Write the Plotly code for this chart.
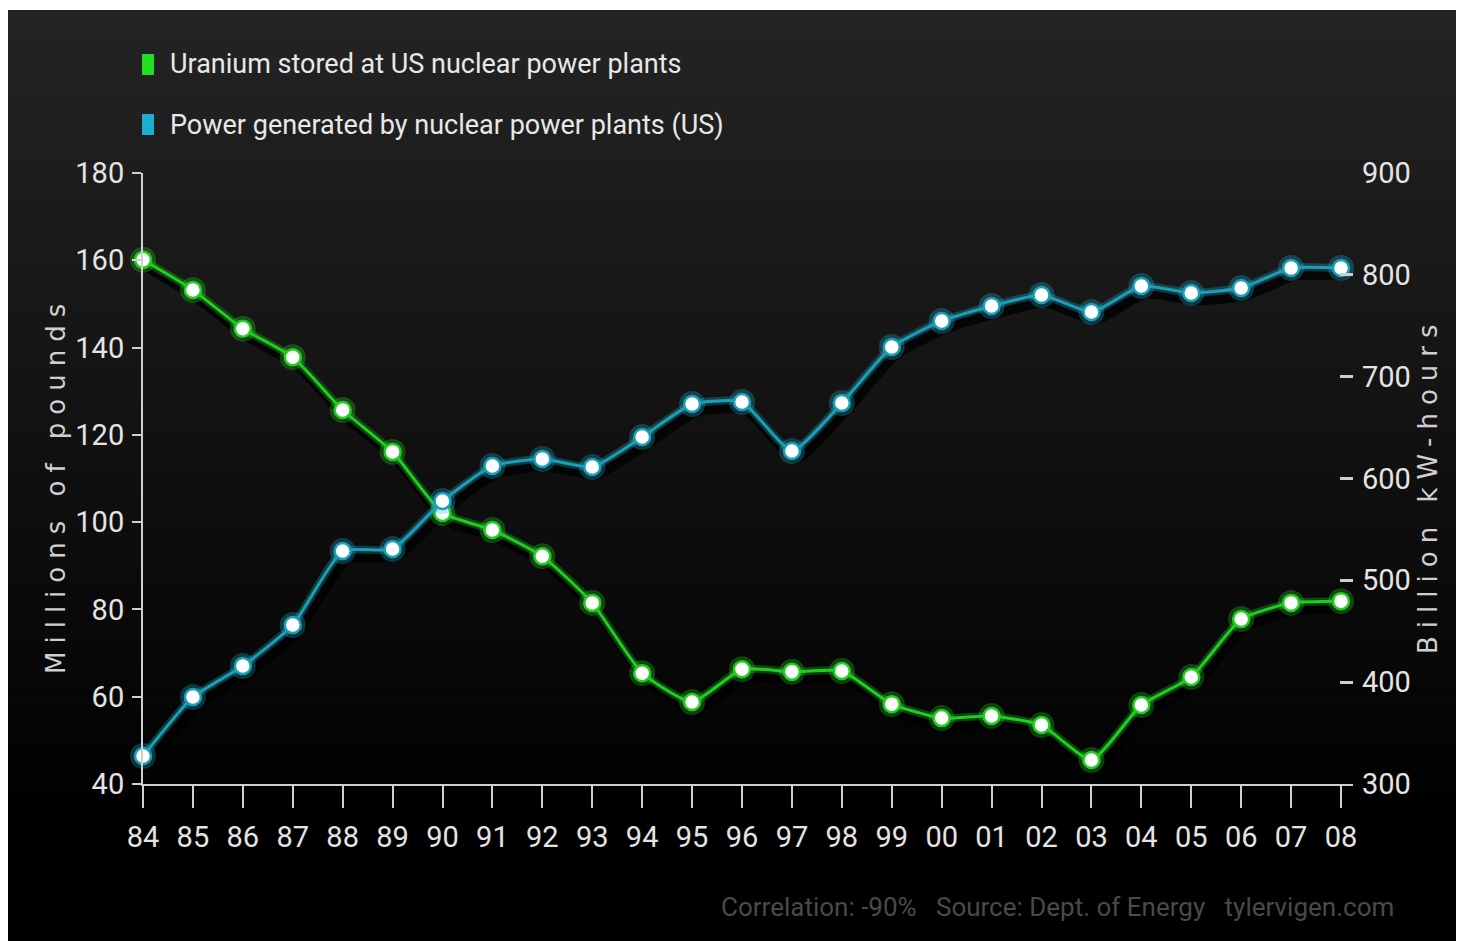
import plotly.graph_objects as go

# ---- data ----
years = ["84", "85", "86", "87", "88", "89", "90", "91", "92", "93", "94", "95", "96",
         "97", "98", "99", "00", "01", "02", "03", "04", "05", "06", "07", "08"]
uranium = [160.1, 153.2, 144.3, 137.8, 125.7, 116.1, 102.1, 98.2, 92.2, 81.5, 65.4, 58.8, 66.3,
           65.7, 65.9, 58.3, 55.1, 55.6, 53.5, 45.5, 58.1, 64.5, 77.8, 81.5, 81.9]
power = [327.5, 385.4, 415.9, 456.1, 528.8, 530.8, 577.9, 612.3, 619.1, 611.3, 640.8, 673.2, 675.1,
         627.0, 674.1, 729.1, 754.7, 769.4, 780.2, 763.5, 789.0, 782.2, 787.1, 806.7, 806.7]
left_ticks = [40, 60, 80, 100, 120, 140, 160, 180]
right_ticks = [300, 400, 500, 600, 700, 800, 900]

series1_name = "Uranium stored at US nuclear power plants"
series2_name = "Power generated by nuclear power plants (US)"
left_title = "Millions of pounds"
right_title = "Billion kW-hours"
footer = "Correlation: -90%   Source: Dept. of Energy   tylervigen.com"

GREEN = "#22cc22"
BLUE = "#1c9fb6"
NARROW = "Roboto, Liberation Sans, sans-serif"

OFF = 8  # page body margin
W, H = 1456, 933
L, T = 143 - OFF, 173 - OFF
R = W - (1353 - OFF)
B = H - (784 - OFF)
pw, ph = W - L - R, H - T - B
xr = [0, 24.24]
ppx = pw / (xr[1] - xr[0])
yl = [40, 180]
yr = [300, 900]
ppyl = ph / (yl[1] - yl[0])
ppyr = ph / (yr[1] - yr[0])


def px_x(p):
    return (p - OFF - L) / pw


def px_y(p):
    return (H - B - (p - OFF)) / ph


fig = go.Figure()

# drop shadows (drawn on hidden, offset base axes: x / y / y2)
dx, dy = 4, 7
for vals, ya in ((uranium, "y"), (power, "y2")):
    fig.add_trace(go.Scatter(x=years, y=vals, mode="lines", xaxis="x", yaxis=ya,
                             line=dict(color="rgba(0,0,0,0.75)", width=11, shape="spline", smoothing=0.5),
                             hoverinfo="skip", showlegend=False, cliponaxis=False))


def add_series(vals, color, glow, yaxis, name):
    fig.add_trace(go.Scatter(x=years, y=vals, mode="lines+markers", xaxis="x2", yaxis=yaxis,
                             line=dict(color=glow, width=8, shape="spline", smoothing=0.5),
                             marker=dict(size=26, color=glow, line=dict(width=0)),
                             hoverinfo="skip", showlegend=False, cliponaxis=False))
    fig.add_trace(go.Scatter(x=years, y=vals, mode="lines+markers", xaxis="x2", yaxis=yaxis, name=name,
                             line=dict(color=color, width=3, shape="spline", smoothing=0.5),
                             marker=dict(size=16, color="white", line=dict(color=color, width=2.5)),
                             showlegend=False, cliponaxis=False))


add_series(uranium, GREEN, "rgba(40,230,40,0.28)", "y3", series1_name)
add_series(power, BLUE, "rgba(30,190,220,0.28)", "y4", series2_name)

# background gradient (styling)
shapes = []
top_px, bot_px = 10, 830
n = 60
for i in range(n):
    y0 = top_px + (bot_px - top_px) * i / n
    y1 = top_px + (bot_px - top_px) * (i + 1) / n + 1
    c = int(round(36 * (1 - (i + 0.5) / n)))
    shapes.append(dict(type="rect", xref="paper", yref="paper", layer="below",
                       x0=px_x(8), x1=px_x(1470), y0=px_y(y1), y1=px_y(y0),
                       fillcolor=f"rgb({c},{c},{c})", line=dict(width=0)))
shapes.append(dict(type="rect", xref="paper", yref="paper", layer="below",
                   x0=px_x(8), x1=px_x(1470), y0=px_y(950), y1=px_y(bot_px),
                   fillcolor="black", line=dict(width=0)))
# legend swatches
shapes.append(dict(type="rect", xref="paper", yref="paper", x0=px_x(142), x1=px_x(154),
                   y0=px_y(75), y1=px_y(54), fillcolor="#1fe01f", line=dict(width=0)))
shapes.append(dict(type="rect", xref="paper", yref="paper", x0=px_x(142), x1=px_x(154),
                   y0=px_y(135), y1=px_y(114), fillcolor="#19afd0", line=dict(width=0)))

title_font = dict(size=26, color="#cfcfcf", family="DejaVu Sans")
annotations = [
    dict(text=series1_name, x=px_x(168), y=px_y(64), xref="paper", yref="paper", showarrow=False,
         font=dict(size=27, color="#e8e8e8", family=NARROW), xanchor="left", yanchor="middle"),
    dict(text=series2_name, x=px_x(168), y=px_y(125), xref="paper", yref="paper", showarrow=False,
         font=dict(size=27, color="#e8e8e8", family=NARROW), xanchor="left", yanchor="middle"),
    dict(text=footer, x=px_x(1396), y=px_y(907), xref="paper", yref="paper", showarrow=False,
         font=dict(size=26, color="#4a4a4a", family=NARROW), xanchor="right", yanchor="middle"),
    dict(text=f'<span style="letter-spacing:8px">{left_title}</span>', textangle=-90,
         x=px_x(56), y=px_y(485), xref="paper", yref="paper", showarrow=False,
         font=title_font, xanchor="center", yanchor="middle"),
    dict(text=f'<span style="letter-spacing:8px">{right_title}</span>', textangle=-90,
         x=px_x(1428), y=px_y(485), xref="paper", yref="paper", showarrow=False,
         font=title_font, xanchor="center", yanchor="middle"),
]

tickfont = dict(size=29, color="#e4e4e4", family=NARROW)
axis_col = "#cfcfcf"

fig.update_layout(
    width=W, height=H,
    margin=dict(l=L, r=R, t=T, b=B, pad=0),
    paper_bgcolor="white", plot_bgcolor="rgba(0,0,0,0)",
    showlegend=False,
    shapes=shapes, annotations=annotations,
    xaxis=dict(type="category", range=[xr[0] - dx / ppx, xr[1] - dx / ppx], visible=False),
    yaxis=dict(range=[yl[0] + dy / ppyl, yl[1] + dy / ppyl], visible=False),
    yaxis2=dict(range=[yr[0] + dy / ppyr, yr[1] + dy / ppyr], overlaying="y", visible=False),
    xaxis2=dict(type="category", overlaying="x", range=xr, showgrid=False, zeroline=False,
                side="bottom", anchor="y3",
                showline=True, linecolor=axis_col, linewidth=2,
                ticks="outside", ticklen=22, tickwidth=2, tickcolor=axis_col,
                tickfont=tickfont, ticklabelstandoff=4),
    yaxis3=dict(range=yl, tickvals=left_ticks, overlaying="y", side="left",
                showgrid=False, zeroline=False,
                showline=True, linecolor=axis_col, linewidth=2,
                ticks="outside", ticklen=9, tickwidth=2, tickcolor=axis_col,
                tickfont=tickfont, ticklabelstandoff=2),
    yaxis4=dict(range=yr, tickvals=right_ticks, overlaying="y", side="right",
                showgrid=False, zeroline=False, showline=False,
                ticks="inside", ticklen=13, tickwidth=3, tickcolor=axis_col,
                tickfont=tickfont, ticklabelstandoff=8),
)

fig.write_html("out.html")
